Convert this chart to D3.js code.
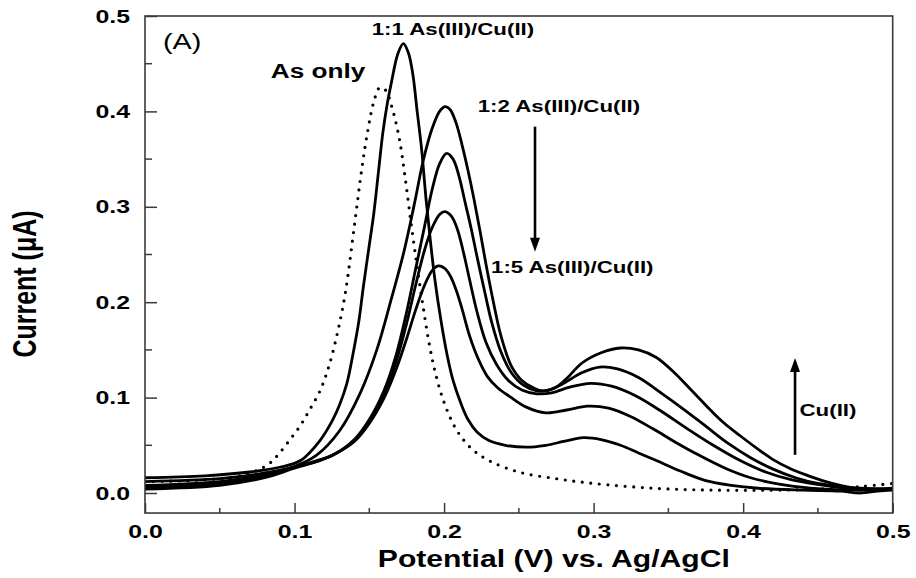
<!DOCTYPE html>
<html>
<head>
<meta charset="utf-8">
<script src="https://cdn.jsdelivr.net/npm/d3@7"></script>
<style>
  html, body { margin: 0; padding: 0; background: #fff; }
  svg { display: block; }
  text { font-family: "Liberation Sans", Arial, sans-serif; fill: #000; }
</style>
</head>
<body>
<svg id="chart" width="916" height="578"></svg>
<script>
// ---------------- data (potential V, current µA) ----------------
const xTicks = [0.0, 0.1, 0.2, 0.3, 0.4, 0.5];
const xMinorTicks = [0.05, 0.15, 0.25, 0.35, 0.45];
const yTicks = [0.0, 0.1, 0.2, 0.3, 0.4, 0.5];
const yMinorTicks = [0.05, 0.15, 0.25, 0.35, 0.45];

const asOnly = [[0.000,0.012],[0.030,0.013],[0.060,0.017],[0.070,0.021],[0.077,0.025],[0.084,0.032],[0.090,0.042],[0.097,0.056],[0.104,0.071],[0.110,0.087],[0.117,0.107],[0.123,0.133],[0.129,0.170],[0.134,0.210],[0.140,0.280],[0.145,0.340],[0.149,0.380],[0.153,0.410],[0.157,0.425],[0.161,0.422],[0.165,0.405],[0.170,0.372],[0.174,0.330],[0.178,0.282],[0.182,0.237],[0.186,0.195],[0.190,0.157],[0.194,0.127],[0.200,0.095],[0.208,0.067],[0.218,0.047],[0.230,0.034],[0.250,0.022],[0.275,0.015],[0.300,0.010],[0.340,0.005],[0.380,0.003],[0.420,0.003],[0.450,0.004],[0.480,0.007],[0.500,0.010]];

const ratio1to1 = [[0.000,0.016],[0.040,0.018],[0.070,0.022],[0.090,0.027],[0.104,0.034],[0.117,0.055],[0.125,0.075],[0.130,0.092],[0.135,0.115],[0.139,0.145],[0.143,0.180],[0.146,0.216],[0.150,0.260],[0.153,0.293],[0.156,0.335],[0.159,0.377],[0.162,0.408],[0.165,0.432],[0.169,0.460],[0.1727,0.471],[0.176,0.462],[0.179,0.440],[0.182,0.400],[0.185,0.360],[0.188,0.307],[0.191,0.262],[0.194,0.222],[0.198,0.180],[0.202,0.145],[0.206,0.118],[0.211,0.095],[0.216,0.077],[0.222,0.064],[0.230,0.055],[0.241,0.050],[0.255,0.048],[0.268,0.050],[0.280,0.054],[0.293,0.058],[0.305,0.056],[0.318,0.050],[0.330,0.042],[0.342,0.034],[0.358,0.023],[0.375,0.013],[0.392,0.008],[0.410,0.005],[0.440,0.003],[0.465,0.002],[0.478,0.000],[0.490,0.002],[0.500,0.003]];

const ratio1to2 = [[0.000,0.012],[0.050,0.015],[0.080,0.021],[0.100,0.028],[0.115,0.040],[0.130,0.065],[0.144,0.105],[0.155,0.150],[0.165,0.205],[0.173,0.252],[0.180,0.302],[0.186,0.348],[0.192,0.382],[0.197,0.400],[0.2006,0.405],[0.204,0.402],[0.208,0.388],[0.212,0.365],[0.216,0.338],[0.220,0.308],[0.224,0.275],[0.228,0.240],[0.233,0.200],[0.238,0.165],[0.245,0.133],[0.252,0.118],[0.260,0.110],[0.266,0.107],[0.274,0.110],[0.282,0.120],[0.292,0.136],[0.305,0.147],[0.318,0.152],[0.330,0.150],[0.342,0.142],[0.354,0.126],[0.364,0.110],[0.375,0.092],[0.386,0.075],[0.398,0.060],[0.409,0.047],[0.420,0.035],[0.431,0.026],[0.442,0.019],[0.453,0.013],[0.465,0.008],[0.480,0.004],[0.500,0.005]];

const ratioMid1 = [[0.000,0.008],[0.050,0.012],[0.080,0.019],[0.100,0.027],[0.115,0.034],[0.126,0.040],[0.140,0.056],[0.150,0.077],[0.160,0.108],[0.168,0.145],[0.175,0.190],[0.181,0.235],[0.187,0.280],[0.192,0.318],[0.197,0.345],[0.2017,0.356],[0.206,0.350],[0.210,0.332],[0.214,0.305],[0.218,0.278],[0.222,0.248],[0.227,0.212],[0.232,0.178],[0.238,0.148],[0.245,0.126],[0.253,0.113],[0.262,0.107],[0.270,0.108],[0.280,0.115],[0.292,0.126],[0.304,0.132],[0.316,0.130],[0.330,0.121],[0.345,0.105],[0.360,0.088],[0.375,0.070],[0.390,0.052],[0.405,0.037],[0.420,0.025],[0.435,0.016],[0.450,0.010],[0.470,0.006],[0.500,0.004]];

const ratioMid2 = [[0.000,0.006],[0.050,0.010],[0.080,0.018],[0.100,0.027],[0.115,0.033],[0.126,0.040],[0.140,0.055],[0.150,0.075],[0.160,0.104],[0.168,0.138],[0.175,0.178],[0.181,0.218],[0.187,0.255],[0.192,0.278],[0.197,0.292],[0.2006,0.295],[0.205,0.290],[0.209,0.276],[0.213,0.252],[0.217,0.224],[0.222,0.190],[0.228,0.158],[0.235,0.135],[0.243,0.118],[0.252,0.108],[0.262,0.104],[0.272,0.105],[0.284,0.111],[0.298,0.115],[0.312,0.112],[0.328,0.102],[0.345,0.086],[0.362,0.068],[0.380,0.050],[0.398,0.034],[0.415,0.022],[0.432,0.014],[0.450,0.009],[0.470,0.005],[0.500,0.004]];

const ratio1to5 = [[0.000,0.004],[0.050,0.008],[0.080,0.016],[0.100,0.026],[0.115,0.033],[0.126,0.040],[0.140,0.054],[0.150,0.073],[0.160,0.100],[0.168,0.130],[0.175,0.162],[0.181,0.192],[0.187,0.218],[0.192,0.233],[0.196,0.238],[0.200,0.236],[0.204,0.228],[0.208,0.213],[0.212,0.193],[0.217,0.165],[0.223,0.140],[0.229,0.122],[0.236,0.110],[0.244,0.101],[0.255,0.090],[0.268,0.084],[0.282,0.087],[0.296,0.091],[0.310,0.089],[0.325,0.080],[0.340,0.067],[0.355,0.053],[0.370,0.040],[0.388,0.026],[0.405,0.016],[0.425,0.009],[0.445,0.005],[0.470,0.003],[0.500,0.004]];

const solidSeries = [ratio1to1, ratio1to2, ratioMid1, ratioMid2, ratio1to5];

// annotation texts and anchor positions (data units)
const labels = [
  {text: "(A)", v: 0.012, i: 0.4654, bold: false, size: 22},
  {text: "As only", v: 0.0841, i: 0.435, bold: true, size: 20},
  {text: "1:1 As(III)/Cu(II)", v: 0.1516, i: 0.480, bold: true, size: 17},
  {text: "1:2 As(III)/Cu(II)", v: 0.2225, i: 0.3997, bold: true, size: 17},
  {text: "1:5 As(III)/Cu(II)", v: 0.2314, i: 0.2306, bold: true, size: 17},
  {text: "Cu(II)", v: 0.4377, i: 0.0802, bold: true, size: 17}
];
const arrows = [
  {v: 0.2608, from: 0.384, to: 0.253},
  {v: 0.4347, from: 0.040, to: 0.1415}
];

// ---------------- layout ----------------
const STRETCH = 1.31;
const svg = d3.select("#chart");
const x = d3.scaleLinear().domain([0, 0.5]).range([145, 892.7]);
const y = d3.scaleLinear().domain([0, 0.5]).range([493, 16]);
const yBottomVal = -0.021;
const plotLeft = x(0), plotRight = x(0.5), plotTop = y(0.5), plotBottom = y(yBottomVal);

function stretch(sel) {
  sel.each(function() {
    const w = this.getComputedTextLength();
    d3.select(this).attr("textLength", w * STRETCH).attr("lengthAdjust", "spacingAndGlyphs");
  });
}

svg.append("rect").attr("width", 916).attr("height", 578).attr("fill", "#fff");

// clip
svg.append("clipPath").attr("id", "clip").append("rect")
  .attr("x", plotLeft).attr("y", plotTop)
  .attr("width", plotRight - plotLeft).attr("height", plotBottom - plotTop);

const line = d3.line()
  .x(d => x(d[0])).y(d => y(d[1]))
  .curve(d3.curveCatmullRom.alpha(0.5));

const curves = svg.append("g").attr("clip-path", "url(#clip)");
curves.append("path").datum(asOnly)
  .attr("d", line).attr("fill", "none").attr("stroke", "#000")
  .attr("stroke-width", 3.2).attr("stroke-linecap", "round")
  .attr("stroke-dasharray", "0 8.6");
curves.selectAll("path.solid").data(solidSeries).enter().append("path")
  .attr("class", "solid")
  .attr("d", line).attr("fill", "none").attr("stroke", "#000")
  .attr("stroke-width", 2.8).attr("stroke-linejoin", "round");

// axes
const axisColor = "#3a3a3a";
const xAxis = svg.append("g").attr("transform", `translate(0,${plotBottom})`)
  .call(d3.axisBottom(x).tickValues(xTicks).tickFormat(d3.format(".1f"))
        .tickSize(-10).tickSizeOuter(0).tickPadding(11));
xAxis.append("g").selectAll("line").data(xMinorTicks).enter().append("line")
  .attr("x1", d => x(d)).attr("x2", d => x(d)).attr("y1", 0).attr("y2", -5);

const yAxis = svg.append("g").attr("transform", `translate(${plotLeft},0)`)
  .call(d3.axisLeft(y).tickValues(yTicks).tickFormat(d3.format(".1f"))
        .tickSize(-12).tickSizeOuter(0).tickPadding(15));
yAxis.append("g").selectAll("line").data(yMinorTicks).enter().append("line")
  .attr("x1", 0).attr("x2", 7).attr("y1", d => y(d)).attr("y2", d => y(d));

[xAxis, yAxis].forEach(a => {
  a.select(".domain").remove();
  a.selectAll("line").attr("stroke", axisColor).attr("stroke-width", 1.5);
  a.selectAll("text").attr("font-size", 19).attr("font-weight", "bold")
    .attr("fill", "#000").attr("font-family", "'Liberation Sans', Arial, sans-serif");
  stretch(a.selectAll(".tick text"));
});

// frame
svg.append("rect")
  .attr("x", plotLeft).attr("y", plotTop)
  .attr("width", plotRight - plotLeft).attr("height", plotBottom - plotTop)
  .attr("fill", "none").attr("stroke", axisColor).attr("stroke-width", 1.6);

// axis titles
const xTitle = svg.append("text")
  .attr("x", (plotLeft + plotRight) / 2 + 35).attr("y", 567)
  .attr("text-anchor", "middle").attr("font-size", 23).attr("font-weight", "bold")
  .text("Potential (V) vs. Ag/AgCl");
stretch(xTitle);

svg.append("g").attr("transform", `translate(36,284) scale(${STRETCH},1) rotate(-90)`)
  .append("text").attr("x", 0).attr("y", 0)
  .attr("text-anchor", "middle").attr("font-size", 25).attr("font-weight", "bold")
  .text("Current (\u03bcA)");

// annotations
labels.forEach(l => {
  const t = svg.append("text")
    .attr("x", x(l.v)).attr("y", y(l.i))
    .attr("font-size", l.size).attr("font-weight", l.bold ? "bold" : "normal")
    .text(l.text);
  stretch(t);
});

arrows.forEach(a => {
  const up = a.to > a.from;
  svg.append("line")
    .attr("x1", x(a.v)).attr("x2", x(a.v))
    .attr("y1", y(a.from)).attr("y2", y(a.to) + (up ? 12 : -12))
    .attr("stroke", "#000").attr("stroke-width", 2.6);
  svg.append("path")
    .attr("d", up
      ? `M${x(a.v)},${y(a.to)} l-5,14 l10,0 Z`
      : `M${x(a.v)},${y(a.to)} l-5,-14 l10,0 Z`)
    .attr("fill", "#000");
});
</script>
</body>
</html>
